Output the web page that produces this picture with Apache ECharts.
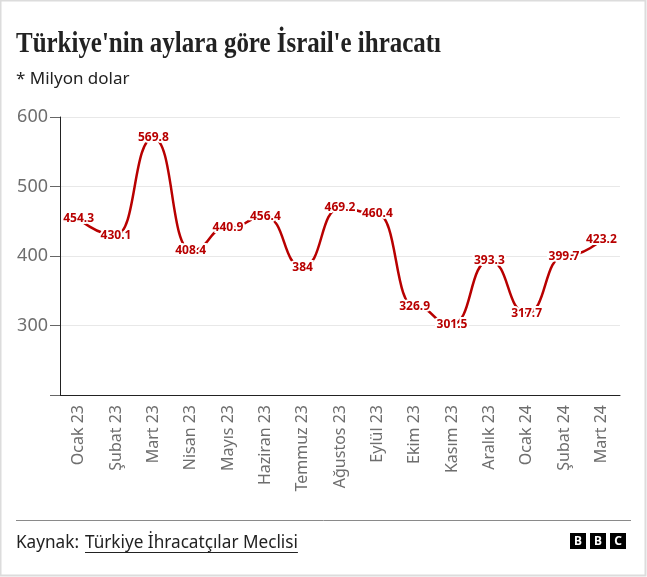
<!DOCTYPE html>
<html>
<head>
<meta charset="utf-8">
<script src="https://cdn.jsdelivr.net/npm/echarts@6/dist/echarts.min.js"></script>
<style>html,body{margin:0;padding:0;background:#fff}#c{width:647px;height:577px}</style>
</head>
<body>
<div id="c"></div>
<script>
var months = ['Ocak 23','Şubat 23','Mart 23','Nisan 23','Mayıs 23','Haziran 23','Temmuz 23','Ağustos 23','Eylül 23','Ekim 23','Kasım 23','Aralık 23','Ocak 24','Şubat 24','Mart 24'];
var exports = [454.3, 430.1, 569.8, 408.4, 440.9, 456.4, 384, 469.2, 460.4, 326.9, 301.5, 393.3, 317.7, 399.7, 423.2];
var yTicks = [200, 300, 400, 500, 600];
var titleText = "Türkiye'nin aylara göre İsrail'e ihracatı";
var subtitleText = '* Milyon dolar';
var sourceLabel = 'Kaynak:';
var sourceName = 'Türkiye İhracatçılar Meclisi';

var sansFont = '"Noto Sans", "Open Sans", sans-serif';
var titleFont = 'bold 29px "Liberation Serif", serif';
var ctx = document.createElement('canvas').getContext('2d');
ctx.font = titleFont;
var titleScale = Math.min(1, 425 / ctx.measureText(titleText).width);
ctx.font = '16px "Noto Sans"';
var footSize = Math.min(18, 16 * 213 / ctx.measureText(sourceName).width);
ctx.font = footSize + 'px "Noto Sans"';
var nameW = ctx.measureText(sourceName).width;

var chart = echarts.init(document.getElementById('c'), null, {renderer: 'canvas'});
chart.setOption({
  backgroundColor: '#fff',
  animation: false,
  title: [
    {text: subtitleText, left: 16, top: 71, padding: 0,
     textStyle: {fontFamily: sansFont, fontSize: 17, fontWeight: 'normal', color: '#222'}}
  ],
  grid: {left: 60, right: 27, top: 117, bottom: 182, containLabel: false},
  xAxis: {
    type: 'category', data: months, boundaryGap: true,
    axisLine: {lineStyle: {color: '#222', width: 1}},
    axisTick: {alignWithLabel: true, length: 6, lineStyle: {color: '#222'}},
    axisLabel: {rotate: 90, margin: 10, fontFamily: sansFont, fontSize: 16, color: '#6e6e6e', interval: 0}
  },
  yAxis: {
    type: 'value', min: yTicks[0], max: yTicks[yTicks.length - 1], interval: 100,
    axisLine: {show: true, lineStyle: {color: '#222', width: 1}},
    axisTick: {show: true, length: 10, lineStyle: {color: '#666'}},
    axisLabel: {margin: 12, fontFamily: sansFont, fontSize: 18, color: '#6e6e6e',
      formatter: function (v) { return v === 200 ? '' : String(v); }},
    splitLine: {show: true, lineStyle: {color: '#e8e8e8', width: 1}}
  },
  series: [{
    type: 'line', data: exports, smooth: 0.55, smoothMonotone: 'x',
    symbol: 'circle', symbolSize: 0.01, showSymbol: true,
    itemStyle: {color: '#b80000'},
    lineStyle: {color: '#b80000', width: 2.5},
    label: {show: true, position: 'inside', fontFamily: sansFont, fontSize: 12, fontWeight: 'bold',
      color: '#b80000', textBorderColor: '#fff', textBorderWidth: 4}
  }],
  graphic: [
    {type: 'rect', shape: {x: 0.5, y: 0.5, width: 645, height: 575}, style: {fill: 'none', stroke: '#dcdcdc', lineWidth: 2}, silent: true},
    {type: 'text', x: 16, y: 44.5, scaleX: titleScale, style: {text: titleText, font: titleFont, fill: '#222', textVerticalAlign: 'middle'}},
    {type: 'line', shape: {x1: 16, y1: 520.5, x2: 631, y2: 520.5}, style: {stroke: '#8a8a8a', lineWidth: 1}},
    {type: 'text', x: 16, y: 543, style: {text: sourceLabel, font: footSize + 'px "Noto Sans"', fill: '#222', textVerticalAlign: 'middle'}},
    {type: 'text', x: 85, y: 543, style: {text: sourceName, font: footSize + 'px "Noto Sans"', fill: '#222', textVerticalAlign: 'middle'}},
    {type: 'line', shape: {x1: 85, y1: 552.5, x2: 85 + nameW, y2: 552.5}, style: {stroke: '#222', lineWidth: 1}},
    {type: 'rect', shape: {x: 570, y: 533, width: 16, height: 16}, style: {fill: '#000'}},
    {type: 'rect', shape: {x: 590, y: 533, width: 16, height: 16}, style: {fill: '#000'}},
    {type: 'rect', shape: {x: 610, y: 533, width: 16, height: 16}, style: {fill: '#000'}},
    {type: 'text', x: 578, y: 541.5, style: {text: 'B', font: 'bold 12px "Noto Sans"', fill: '#fff', textAlign: 'center', textVerticalAlign: 'middle'}},
    {type: 'text', x: 598, y: 541.5, style: {text: 'B', font: 'bold 12px "Noto Sans"', fill: '#fff', textAlign: 'center', textVerticalAlign: 'middle'}},
    {type: 'text', x: 618, y: 541.5, style: {text: 'C', font: 'bold 12px "Noto Sans"', fill: '#fff', textAlign: 'center', textVerticalAlign: 'middle'}}
  ]
});
</script>
</body>
</html>
